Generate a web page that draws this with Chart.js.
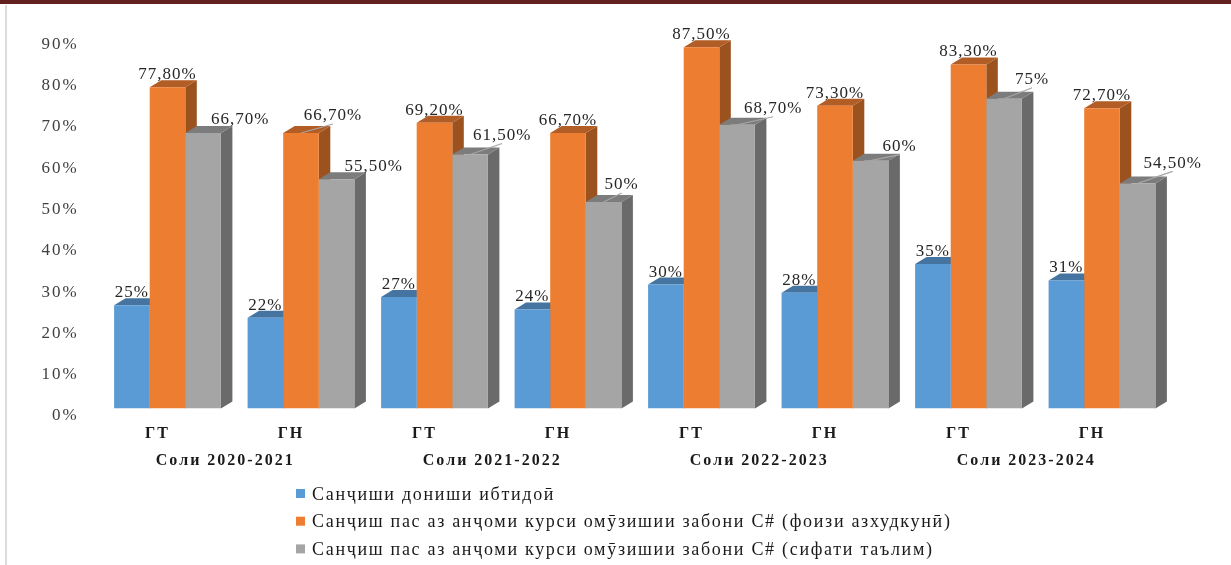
<!DOCTYPE html>
<html>
<head>
<meta charset="utf-8">
<style>
  html, body { margin: 0; padding: 0; background: #fff; overflow: hidden; }
  #wrap { position: relative; width: 1231px; height: 565px; }
  #topBand { position: absolute; left: 0; top: 0; width: 1231px; height: 4px; background: #63201f; }
  #leftLine { position: absolute; left: 5px; top: 5px; width: 2px; height: 560px; background: #dcdcdc; }
  canvas { position: absolute; left: 0; top: 0; }
</style>
<script src="https://cdn.jsdelivr.net/npm/chart.js@4"></script>
</head>
<body>
<div id="wrap">
  <canvas id="chart" width="1231" height="565"></canvas>
  <div id="topBand"></div>
  <div id="leftLine"></div>
</div>
<script>
const categories = ['ГТ', 'ГН', 'ГТ', 'ГН', 'ГТ', 'ГН', 'ГТ', 'ГН'];
const years = ['Соли 2020-2021', 'Соли 2021-2022', 'Соли 2022-2023', 'Соли 2023-2024'];
const yTicks = [0, 10, 20, 30, 40, 50, 60, 70, 80, 90];

const initialKnowledge = [25, 22, 27, 24, 30, 28, 35, 31];
const masteryPercent = [77.8, 66.7, 69.2, 66.7, 87.5, 73.3, 83.3, 72.7];
const teachingQuality = [66.7, 55.5, 61.5, 50, 68.7, 60, 75, 54.5];

const seriesNames = [
    'Санҷиши дониши ибтидоӣ',
    'Санҷиш пас аз анҷоми курси омӯзишии забони C# (фоизи азхудкунӣ)',
    'Санҷиш пас аз анҷоми курси омӯзишии забони C# (сифати таълим)'
];
const frontColors = ['#5b9bd5', '#ed7d31', '#a5a5a5'];
const topColors = ['#44749f', '#b25d25', '#7c7c7c'];
const sideColors = ['#3a6690', '#9c521f', '#6a6a6a'];

const depthX = 11.5;
const depthY = 7;
const serif = '"Liberation Serif", serif';

// Etiquetas con valores en formato 77,80%
function formatValue(v) {
    return Number.isInteger(v) ? v + '%' : v.toFixed(2).replace('.', ',') + '%';
}

// Cara superior y lateral de cada barra
const depthPlugin = {
    id: 'depth',
    beforeDatasetsDraw(chart) {
        const { ctx } = chart;
        chart.data.datasets.forEach((dataset, i) => {
            chart.getDatasetMeta(i).data.forEach(bar => {
                const left = bar.x - bar.width / 2;
                const right = bar.x + bar.width / 2;
                ctx.fillStyle = sideColors[i];
                ctx.beginPath();
                ctx.moveTo(right, bar.y);
                ctx.lineTo(right + depthX, bar.y - depthY);
                ctx.lineTo(right + depthX, bar.base - depthY);
                ctx.lineTo(right, bar.base);
                ctx.closePath();
                ctx.fill();
                ctx.fillStyle = topColors[i];
                ctx.beginPath();
                ctx.moveTo(left, bar.y);
                ctx.lineTo(left + depthX, bar.y - depthY);
                ctx.lineTo(right + depthX, bar.y - depthY);
                ctx.lineTo(right, bar.y);
                ctx.closePath();
                ctx.fill();
            });
        });
    }
};

// Desplazamiento de las etiquetas: [serie, indice] => [dx, dy, linea guia]
const labelShift = {
    '1-1': [32, -17, true],
    '2-2': [32, -19, true],
    '2-3': [18, -17, true],
    '2-4': [36, -16, true],
    '2-5': [29, -14, true],
    '2-6': [28, -19, true],
    '2-7': [35, -20, true]
};

const valueLabelPlugin = {
    id: 'valueLabels',
    afterDatasetsDraw(chart) {
        const { ctx } = chart;
        ctx.save();
        ctx.font = '17px ' + serif;
        ctx.letterSpacing = '1px';
        ctx.textAlign = 'center';
        ctx.textBaseline = 'middle';
        chart.data.datasets.forEach((dataset, i) => {
            chart.getDatasetMeta(i).data.forEach((bar, j) => {
                const shift = labelShift[i + '-' + j] || (i === 2 ? [37, -13, false] : [0, -12.5, false]);
                const lx = bar.x + shift[0];
                const ly = bar.y + shift[1];
                if (shift[2]) {
                    ctx.strokeStyle = '#a6a6a6';
                    ctx.lineWidth = 1.2;
                    ctx.beginPath();
                    ctx.moveTo(bar.x, bar.y);
                    ctx.lineTo(lx, ly + 8);
                    ctx.stroke();
                }
                ctx.fillStyle = '#262626';
                ctx.fillText(formatValue(dataset.data[j]), lx, ly);
            });
        });
        ctx.restore();
    }
};

// Leyenda vertical, alineada a la izquierda debajo del eje
const stackedLegendPlugin = {
    id: 'stackedLegend',
    afterDraw(chart) {
        const { ctx } = chart;
        ctx.save();
        ctx.font = '18px ' + serif;
        ctx.letterSpacing = '1.7px';
        ctx.textAlign = 'left';
        ctx.textBaseline = 'middle';
        chart.data.datasets.forEach((dataset, i) => {
            const y = 493 + i * 27.7;
            ctx.fillStyle = dataset.backgroundColor;
            ctx.fillRect(296, y - 4, 9, 9);
            ctx.fillStyle = '#1a1a1a';
            ctx.fillText(dataset.label, 312, y + 2);
        });
        ctx.restore();
    }
};

// El espaciado de letras imita el texto ensanchado del original
const spacingPlugin = {
    id: 'spacing',
    beforeDraw(chart) {
        chart.ctx.letterSpacing = '2px';
    }
};

const dataSeries = [initialKnowledge, masteryPercent, teachingQuality];

new Chart(document.getElementById('chart'), {
    type: 'bar',
    data: {
        labels: categories,
        datasets: dataSeries.map((values, i) => ({
            label: seriesNames[i],
            data: values,
            backgroundColor: frontColors[i],
            barPercentage: 1,
            categoryPercentage: 0.8
        }))
    },
    options: {
        responsive: false,
        animation: false,
        layout: { padding: { top: 36.8, right: 62.25, bottom: 94.5, left: 0 } },
        plugins: {
            legend: { display: false },
            title: { display: false },
            tooltip: { enabled: false }
        },
        scales: {
            y: {
                min: 0,
                max: 90,
                afterBuildTicks(scale) {
                    scale.ticks = yTicks.map(value => ({ value }));
                },
                afterFit(scale) {
                    scale.width = 100.75;
                },
                grid: { display: false, drawTicks: false },
                border: { display: false },
                ticks: {
                    padding: 22,
                    labelOffset: 7.5,
                    color: '#404040',
                    font: { family: serif, size: 17 },
                    callback: value => value + '%'
                }
            },
            x: {
                afterFit(scale) {
                    scale.height = 35;
                },
                grid: { display: false, drawTicks: false },
                border: { display: false },
                ticks: {
                    padding: 16,
                    labelOffset: -10,
                    maxRotation: 0,
                    autoSkip: false,
                    color: '#1a1a1a',
                    font: { family: serif, size: 16, weight: 'bold' }
                }
            },
            x2: {
                type: 'category',
                axis: 'x',
                position: 'bottom',
                labels: years,
                offset: true,
                afterFit(scale) {
                    scale.height = 27;
                },
                grid: { display: false, drawTicks: false },
                border: { display: false },
                ticks: {
                    padding: 8,
                    labelOffset: -9,
                    maxRotation: 0,
                    autoSkip: false,
                    color: '#1a1a1a',
                    font: { family: serif, size: 16, weight: 'bold' }
                }
            }
        }
    },
    plugins: [spacingPlugin, depthPlugin, valueLabelPlugin, stackedLegendPlugin]
});
</script>
</body>
</html>
